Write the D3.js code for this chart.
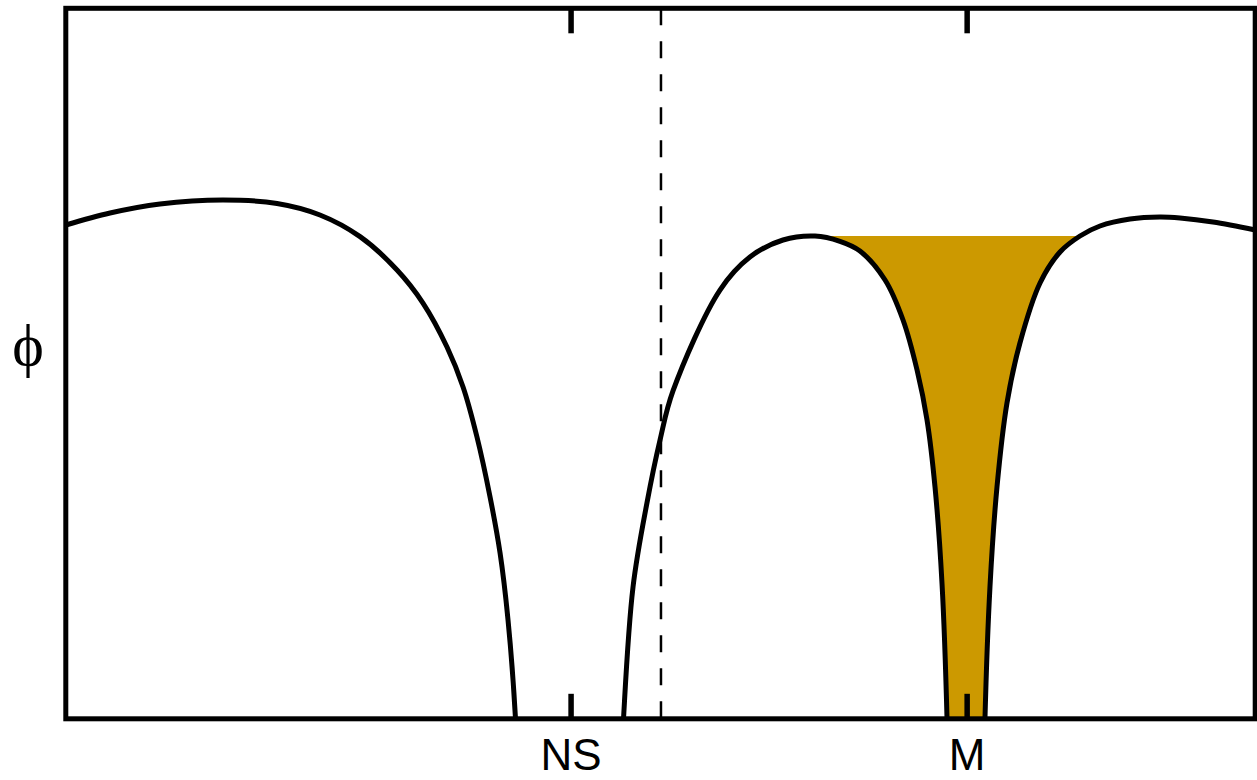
<!DOCTYPE html>
<html lang="en">
<head>
    <meta charset="UTF-8">
    <title>phi</title>
    <style>
        body { margin: 0; background: #fff; }
        svg { display: block; }
    </style>
</head>
<body>
    <script src="https://d3js.org/d3.v7.min.js"></script>
    <div id="chart"></div>
    <script>
    // values (x: 0-100, phi: 0-100, below 0 is cut off by the frame)
    var xs = [0, 3.72, 7.92, 13.22, 17.76, 21.37, 24.74, 27.85, 30.03, 32.05, 33.40, 34.57, 35.67, 36.51, 37.18, 37.81, 38.36,
              46.26, 46.89, 47.69, 48.86, 49.96, 51.05, 55.00, 57.52, 60.30, 62.99, 65.09, 66.77, 68.88, 70.39, 71.57, 72.41, 73.08, 73.67, 74.09, 74.34,
              77.03, 77.28, 77.70, 78.29, 79.13, 80.22, 81.91, 83.59, 85.27, 86.95, 89.48, 91.99, 93.68, 96.45, 100];
    var phi = [69.50, 71.19, 72.46, 73.02, 72.53, 70.91, 67.86, 63.17, 58.52, 52.33, 46.70, 39.66, 31.22, 23.34, 13.91, 0, -25.5,
               -25.5, 0, 18.55, 30.37, 39.24, 46.14, 60.35, 65.0, 67.39, 67.95, 67.20, 65.84, 61.76, 56.13, 49.09, 42.05, 32.62, 19.0, 0, -25.5,
               -25.5, 0, 18.55, 32.62, 44.45, 52.89, 61.34, 65.70, 67.95, 69.36, 70.34, 70.63, 70.49, 69.92, 68.80];

    var tickPos = [42.44, 75.74];
    var tickLabels = ["NS", "M"];
    var dashX = 50.04;
    var fillLevel = 67.95;
    var fillFrom = 62.99, fillTo = 85.27;

    var data = xs.map(function(d, i) { return {x: d, y: phi[i]}; });

    var width = 1257, height = 780;
    var mLeft = 65.8, mTop = 8.3, mRight = 1255.2, mBottom = 718.8;

    var x = d3.scaleLinear().domain([0, 100]).range([mLeft, mRight]);
    var y = d3.scaleLinear().domain([0, 100]).range([mBottom, mTop]);
    var smooth = d3.curveCatmullRom.alpha(0.5);

    var svg = d3.select("#chart").append("svg")
        .attr("width", width)
        .attr("height", height);

    var defs = svg.append("defs");
    defs.append("clipPath").attr("id", "plot")
        .append("rect")
        .attr("x", mLeft).attr("y", mTop)
        .attr("width", mRight - mLeft).attr("height", mBottom - mTop);
    defs.append("clipPath").attr("id", "well")
        .append("rect")
        .attr("x", x(fillFrom)).attr("y", y(fillLevel))
        .attr("width", x(fillTo) - x(fillFrom)).attr("height", mBottom - y(fillLevel));

    // shaded well under the right peak level
    svg.append("g").attr("clip-path", "url(#plot)")
      .append("path")
        .datum(data)
        .attr("clip-path", "url(#well)")
        .attr("fill", "#cc9900")
        .attr("d", d3.area()
            .curve(smooth)
            .x(function(d) { return x(d.x); })
            .y0(y(fillLevel))
            .y1(function(d) { return y(d.y); }));

    svg.append("path")
        .datum(data)
        .attr("clip-path", "url(#plot)")
        .attr("fill", "none")
        .attr("stroke", "#000")
        .attr("stroke-width", 5)
        .attr("d", d3.line()
            .curve(smooth)
            .x(function(d) { return x(d.x); })
            .y(function(d) { return y(d.y); }));

    svg.append("line")
        .attr("x1", x(dashX)).attr("x2", x(dashX))
        .attr("y1", mTop).attr("y2", mBottom)
        .attr("stroke", "#000")
        .attr("stroke-width", 2.5)
        .attr("stroke-dasharray", "17,16");

    // ticks inside the frame, top and bottom
    var axB = d3.axisBottom(x).tickValues(tickPos).tickSize(-25).tickSizeOuter(0)
        .tickFormat(function(d, i) { return tickLabels[i]; });
    var gB = svg.append("g").attr("transform", "translate(0," + mBottom + ")").call(axB);
    var axT = d3.axisTop(x).tickValues(tickPos).tickSize(-25).tickSizeOuter(0).tickFormat("");
    var gT = svg.append("g").attr("transform", "translate(0," + mTop + ")").call(axT);
    [gB, gT].forEach(function(g) {
        g.select(".domain").remove();
        g.selectAll(".tick line").attr("stroke", "#000").attr("stroke-width", 5.5);
    });
    gB.selectAll(".tick text")
        .attr("y", 0).attr("dy", null)
        .attr("transform", "translate(0,51)")
        .attr("fill", "#000")
        .style("font-family", "'Liberation Sans', Arial, sans-serif")
        .style("font-size", "44px");

    svg.append("rect")
        .attr("x", mLeft).attr("y", mTop)
        .attr("width", mRight - mLeft).attr("height", mBottom - mTop)
        .attr("fill", "none")
        .attr("stroke", "#000")
        .attr("stroke-width", 5);

    svg.append("text")
        .attr("x", 28).attr("y", 365)
        .attr("text-anchor", "middle")
        .style("font-family", "'Liberation Serif', 'Times New Roman', serif")
        .style("font-size", "60px")
        .text("\u03d5");
    </script>
</body>
</html>
